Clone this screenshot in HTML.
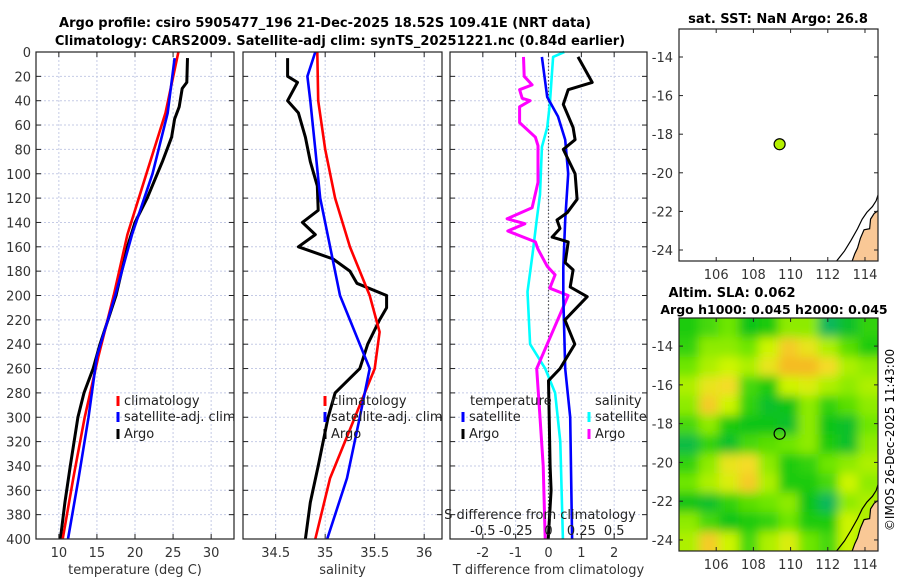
<!DOCTYPE html>
<html><head><meta charset="utf-8"><style>
html,body{margin:0;padding:0;background:#fff;width:900px;height:580px;overflow:hidden}
svg{font-family:"DejaVu Sans","Liberation Sans",sans-serif}
</style></head><body>
<svg id="fig" width="900" height="580" viewBox="0 0 900 580" xmlns="http://www.w3.org/2000/svg">
<defs>
<filter id="blur" x="-5%" y="-5%" width="110%" height="110%"><feGaussianBlur stdDeviation="5"/></filter>
<clipPath id="clipMap2"><rect x="679" y="318" width="199" height="233"/></clipPath>
<clipPath id="clipMap1"><rect x="679" y="29" width="199" height="232"/></clipPath>
</defs>
<text x="325" y="27" text-anchor="middle" font-size="13" font-weight="bold">Argo profile: csiro 5905477_196 21-Dec-2025 18.52S 109.41E (NRT data)</text>
<text x="340" y="45" text-anchor="middle" font-size="13" font-weight="bold">Climatology: CARS2009. Satellite-adj clim: synTS_20251221.nc (0.84d earlier)</text>
<text x="778" y="23" text-anchor="middle" font-size="13" font-weight="bold">sat. SST: NaN Argo: 26.8</text>
<text x="732" y="297" text-anchor="middle" font-size="13" font-weight="bold">Altim. SLA: 0.062</text>
<text x="774" y="314" text-anchor="middle" font-size="12.5" font-weight="bold">Argo h1000: 0.045 h2000: 0.045</text>
<text transform="translate(894,440) rotate(-90)" text-anchor="middle" font-size="12">©IMOS 26-Dec-2025 11:43:00</text>
<g id="g"></g>
</svg>
<script>
// ---- data ----
const depthTicks=[0,20,40,60,80,100,120,140,160,180,200,220,240,260,280,300,320,340,360,380,400];
const tempTicks=[10,15,20,25,30];
const salTicks=[34.5,35,35.5,36];
const tdiffTicks=[-2,-1,0,1,2];
const sdiffTickLabels=["-0.5","-0.25","0","0.25","0.5"];
const sdiffTicks=[-0.5,-0.25,0,0.25,0.5];
const lonTicks=[106,108,110,112,114];
const latTicks=[-14,-16,-18,-20,-22,-24];

const climTdepth=[0,50,100,150,200,250,300,350,400];
const climT=[25.7,24.0,21.5,19.0,17.2,15.2,13.4,11.9,10.5];
const satTdepth=[5,50,100,150,200,250,300,350,400];
const satT=[25.2,24.3,22.3,19.6,17.4,15.0,13.9,12.6,11.2];
const argoTdepth=[5,25,30,45,55,70,90,120,140,160,200,240,260,280,300,340,370,400];
const argoT=[26.9,26.8,26.2,25.8,25.2,24.8,23.6,21.6,20.0,19.0,17.5,15.4,14.5,13.3,12.5,11.5,10.8,10.2];

const climSdepth=[0,40,80,120,160,200,230,260,300,350,400];
const climS=[34.92,34.93,35.0,35.1,35.25,35.45,35.55,35.5,35.3,35.05,34.9];
const satSdepth=[0,20,40,80,120,160,200,240,260,300,350,400];
const satS=[34.9,34.82,34.85,34.9,34.95,35.05,35.15,35.35,35.45,35.35,35.22,35.02];
const argoSdepth=[5,20,25,40,50,70,90,110,130,140,150,160,170,180,190,200,210,220,240,260,280,300,340,370,400];
const argoS=[34.62,34.62,34.72,34.62,34.73,34.8,34.85,34.92,34.93,34.77,34.9,34.73,35.08,35.25,35.32,35.62,35.62,35.55,35.43,35.35,35.1,35.03,34.93,34.85,34.8];

const dTargoDepth=[4,25,31,43,62,72,80,100,121,132,138,145,152,156,173,179,193,201,220,240,260,270,300,340,360,400];
const dTargo=[0.9,1.33,0.6,0.45,0.75,0.81,0.45,0.81,0.87,0.57,0.26,0.35,0.11,0.6,0.51,0.75,0.66,1.18,0.5,0.8,0.35,0.0,0.02,0.05,0.08,-0.01];
const dTsatDepth=[4,37,53,72,100,138,177,201,260,300,400];
const dTsat=[-0.2,-0.04,0.29,0.51,0.6,0.51,0.45,0.45,0.51,0.66,0.72];
const dSargoDepth=[4,20,27,31,38,40,45,58,70,77,107,128,137,141,147,156,162,176,183,194,200,240,260,300,340,400];
const dSargo=[-0.19,-0.185,-0.125,-0.22,-0.2,-0.14,-0.22,-0.22,-0.1,-0.08,-0.08,-0.125,-0.315,-0.18,-0.31,-0.1,-0.08,-0.01,0.05,0.01,0.15,-0.01,-0.09,-0.065,-0.04,-0.025];
const dSsatDepth=[0,4,43,62,78,117,138,165,197,240,260,280,320,400];
const dSsat=[0.12,0.035,0.01,-0.01,-0.05,-0.065,-0.09,-0.12,-0.16,-0.14,-0.025,0.05,0.09,0.11];

const argoLon=109.41, argoLat=-18.52;
const slaGrid=[
[-0.4,-0.2,0,-0.5,-0.4,0.1,0.1,-0.8,-0.6,-0.3],
[-0.3,0.1,0.1,0,0.3,0.7,0.5,0.2,-0.1,-0.4],
[0,0.2,0.3,0.2,0.5,0.8,0.8,0.6,0.2,0.1],
[0.2,0.5,0.6,-0.2,-0.4,0.3,0.4,0.2,0.1,0.2],
[0.1,0.7,0.3,-0.3,-0.6,-0.5,0.1,-0.3,-0.1,0.1],
[-0.2,0.1,-0.4,-0.5,-0.5,-0.6,0.1,-0.5,-0.6,0],
[-0.7,-0.3,-0.6,-0.2,-0.1,0,0.1,-0.4,-0.6,0.1],
[-0.3,0.1,0.5,0.6,0.1,-0.4,-0.3,0,0.1,0.2],
[0,0.2,0.4,0.7,0.2,-0.4,-0.4,-0.2,0.3,0.1],
[-0.5,-0.6,-0.3,-0.1,0,0.1,-0.5,-0.8,0.1,0.2],
[0.1,-0.2,-0.5,-0.4,-0.3,0,-0.4,-0.4,0.3,0.2],
[0.2,0.7,0.3,-0.2,0.2,0.4,0,-0.2,0.3,0.1]];
const landLon=[114.8,114.5,114.3,114.25,113.95,113.75,113.6,113.45,113.3,114.8];
const landLat=[-21.9,-22.1,-22.4,-22.9,-22.95,-23.4,-23.9,-24.2,-24.6,-24.6];
const coastLon=[112.45,112.9,113.25,113.6,113.85,114.1,114.4,114.6,114.75];
const coastLat=[-24.6,-24.05,-23.5,-22.9,-22.4,-22.05,-21.75,-21.45,-21.0];

// ---- helpers ----
const NS="http://www.w3.org/2000/svg";
const G=document.getElementById('g');
function el(tag,attrs,parent){const e=document.createElementNS(NS,tag);for(const k in attrs)e.setAttribute(k,attrs[k]);(parent||G).appendChild(e);return e;}
function lin(d0,d1,r0,r1){return v=>r0+(v-d0)/(d1-d0)*(r1-r0);}
const Y=lin(0,400,52,539);

function panel(name,x0,x1,xs,xticks,xlabels,xtitle){
  const g=el('g',{});
  
  
  depthTicks.forEach(d=>{const l=el('line',{x1:x0,x2:x1,y1:Y(d),y2:Y(d),stroke:'#c5cbe6','stroke-dasharray':'2,2','stroke-width':1},g);});
  xticks.forEach(v=>{const l=el('line',{x1:xs(v),x2:xs(v),y1:52,y2:539,stroke:'#c5cbe6','stroke-dasharray':'2,2','stroke-width':1},g);});
  depthTicks.forEach(d=>{el('line',{x1:x0,x2:x0+5,y1:Y(d),y2:Y(d),stroke:'#222'},g);el('line',{x1:x1-5,x2:x1,y1:Y(d),y2:Y(d),stroke:'#222'},g);});
  xticks.forEach((v,i)=>{el('line',{x1:xs(v),x2:xs(v),y1:534,y2:539,stroke:'#222'},g);el('line',{x1:xs(v),x2:xs(v),y1:52,y2:57,stroke:'#222'},g);
    const t=el('text',{x:xs(v),y:557,'text-anchor':'middle','font-size':13,fill:'#333'},g);t.textContent=xlabels[i];});
  const t=el('text',{x:(x0+x1)/2,y:574,'text-anchor':'middle','font-size':13,fill:'#333'},g);t.textContent=xtitle;
  return g;
}
function frame(g,x0,x1){const r=el('rect',{x:x0,y:52,width:x1-x0,height:487,fill:'none',stroke:'#222','stroke-width':1.2},g);}
function series(g,name,xs,vals,depths,color,w){
  const pts=vals.map((v,i)=>xs(v).toFixed(1)+','+Y(depths[i]).toFixed(1)).join(' ');
  const p=el('polyline',{points:pts,fill:'none',stroke:color,'stroke-width':w||2.6,'stroke-linejoin':'round'},g);
  
  
}
function legend(g,x,y,color,label,name){
  if(color){el('line',{x1:x,x2:x,y1:y-9,y2:y+1,stroke:color,'stroke-width':3},g);}
  const t=el('text',{x:x+(color?6:0),y:y,'font-size':13,fill:'#222'},g);t.textContent=label;
  
  
}

depthTicks.forEach(d=>{const t=el('text',{x:31,y:Y(d)+5,'text-anchor':'end','font-size':13,fill:'#333'});t.textContent=d;
  
  });

// panel 1
const XT=lin(7,33,36,234);
const p1=panel('temperature-panel',36,234,XT,tempTicks,tempTicks.map(String),'temperature (deg C)');
series(p1,'argo-temperature-line',XT,argoT,argoTdepth,'#000',3);
series(p1,'climatology-temperature-line',XT,climT,climTdepth,'#f00');
series(p1,'satellite-temperature-line',XT,satT,satTdepth,'#00f');
frame(p1,36,234);
legend(p1,118,405,'#f00','climatology','legend-climatology');
legend(p1,118,421,'#00f','satellite-adj. clim','legend-satellite');
legend(p1,118,438,'#000','Argo','legend-argo');

// panel 2
const XS=lin(34.17,36.18,243,442);
const p2=panel('salinity-panel',243,442,XS,salTicks,salTicks.map(String),'salinity');
series(p2,'argo-salinity-line',XS,argoS,argoSdepth,'#000',3);
series(p2,'climatology-salinity-line',XS,climS,climSdepth,'#f00');
series(p2,'satellite-salinity-line',XS,satS,satSdepth,'#00f');
frame(p2,243,442);
legend(p2,325,405,'#f00','climatology','legend-climatology');
legend(p2,325,421,'#00f','satellite-adj. clim','legend-satellite');
legend(p2,325,438,'#000','Argo','legend-argo');

// panel 3
const XD=lin(-3,3,450,647);
const XSD=v=>XD(v*4);
const p3=panel('difference-panel',450,647,XD,tdiffTicks,tdiffTicks.map(String),'T difference from climatology');
el('line',{x1:XD(0),x2:XD(0),y1:52,y2:539,stroke:'#555','stroke-dasharray':'1.5,2','stroke-width':1.2},p3);
series(p3,'salinity-satellite-diff-line',XSD,dSsat,dSsatDepth,'#0ff');
series(p3,'salinity-argo-diff-line',XSD,dSargo,dSargoDepth,'#f0f',3);
series(p3,'temperature-satellite-diff-line',XD,dTsat,dTsatDepth,'#00f');
series(p3,'temperature-argo-diff-line',XD,dTargo,dTargoDepth,'#000',3);
frame(p3,450,647);
legend(p3,470,405,null,'temperature','legend-temperature-heading');
legend(p3,463,421,'#00f','satellite','legend-t-satellite');
legend(p3,463,438,'#000','Argo','legend-t-argo');
legend(p3,595,405,null,'salinity','legend-salinity-heading');
legend(p3,589,421,'#0ff','satellite','legend-s-satellite');
legend(p3,589,438,'#f0f','Argo','legend-s-argo');
{const t=el('text',{x:540,y:519,'text-anchor':'middle','font-size':13,fill:'#222'},p3);t.textContent='S difference from climatology';}
sdiffTicks.forEach((v,i)=>{const t=el('text',{x:XSD(v),y:535,'text-anchor':'middle','font-size':13,fill:'#222'},p3);t.textContent=sdiffTickLabels[i];});

// maps
function mapAxes(name,top,bottom){
  const g=el('g',{});
  
  
  const LX=lin(104,114.7,679,878), LY=lin(-12.55,-24.57,top,bottom);
  return {g,LX,LY};
}
function mapDecor(m,top,bottom){
  const {g,LX,LY}=m;
  el('rect',{x:679,y:top,width:199,height:bottom-top,fill:'none',stroke:'#222','stroke-width':1.2},g);
  lonTicks.forEach(v=>{el('line',{x1:LX(v),x2:LX(v),y1:bottom-4,y2:bottom,stroke:'#222'},g);el('line',{x1:LX(v),x2:LX(v),y1:top,y2:top+4,stroke:'#222'},g);
    const t=el('text',{x:LX(v),y:bottom+18,'text-anchor':'middle','font-size':13,fill:'#333'},g);t.textContent=v;});
  latTicks.forEach(v=>{el('line',{x1:679,x2:683,y1:LY(v),y2:LY(v),stroke:'#222'},g);el('line',{x1:874,x2:878,y1:LY(v),y2:LY(v),stroke:'#222'},g);
    const t=el('text',{x:673,y:LY(v)+5,'text-anchor':'end','font-size':13,fill:'#333'},g);t.textContent=v;});
}
function land(m,clip){
  const {g,LX,LY}=m;
  const cg=el('g',{'clip-path':'url(#'+clip+')'},g);
  const lp=el('polygon',{points:landLon.map((v,i)=>LX(v)+','+LY(landLat[i])).join(' '),fill:'#f9c896',stroke:'#000','stroke-width':1.2},cg);
  
  const cl=el('polyline',{points:coastLon.map((v,i)=>LX(v)+','+LY(coastLat[i])).join(' '),fill:'none',stroke:'#000','stroke-width':1.2},cg);
  
}
const m1=mapAxes('sst-map',29,261);
el('rect',{x:679,y:29,width:199,height:232,fill:'#fff'},m1.g);
land(m1,'clipMap1');
{const c=el('circle',{cx:m1.LX(argoLon),cy:m1.LY(argoLat),r:5.5,fill:'#b4f000',stroke:'#000','stroke-width':1.2},m1.g);}
mapDecor(m1,29,261);

const m2=mapAxes('sla-map',318,551);
function slaColor(v){
  const stops=[[-1,[16,176,140]],[-0.5,[10,196,20]],[0,[110,230,0]],[0.3,[205,245,0]],[0.6,[245,220,40]],[0.9,[245,170,30]]];
  if(v<=stops[0][0])return 'rgb('+stops[0][1]+')';
  for(let i=1;i<stops.length;i++){if(v<=stops[i][0]){const a=stops[i-1],b=stops[i],t=(v-a[0])/(b[0]-a[0]);return 'rgb('+a[1].map((c,k)=>Math.round(c+(b[1][k]-c)*t)).join(',')+')';}}
  return 'rgb('+stops[stops.length-1][1]+')';
}
const hg=el('g',{'clip-path':'url(#clipMap2)'},m2.g);
const hb=el('g',{filter:'url(#blur)'},hg);
const nr=slaGrid.length, nc=slaGrid[0].length, cw=199/nc, ch=233/nr;
slaGrid.forEach((row,r)=>row.forEach((v,c)=>{
  const x=679+c*cw-(c==0?12:0), y=318+r*ch-(r==0?12:0);
  const w=cw+(c==0?12:0)+(c==nc-1?12:0)+0.5, h=ch+(r==0?12:0)+(r==nr-1?12:0)+0.5;
  const cell=el('rect',{x:x,y:y,width:w,height:h,fill:slaColor(v)},hb);
  
  
}));
land(m2,'clipMap2');
{const c=el('circle',{cx:m2.LX(argoLon),cy:m2.LY(argoLat),r:5.5,fill:'none',stroke:'#000','stroke-width':1.2},m2.g);}
mapDecor(m2,318,551);
</script>
</body></html>
